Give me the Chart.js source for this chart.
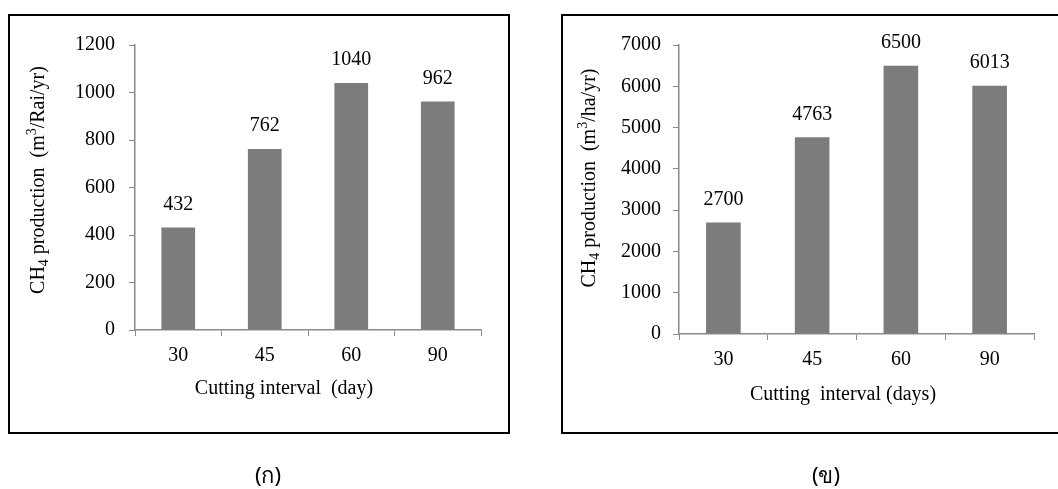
<!DOCTYPE html>
<html>
<head>
<meta charset="utf-8">
<script src="https://cdn.jsdelivr.net/npm/chart.js@4.4.1/dist/chart.umd.min.js"></script>
<style>
  html, body { margin: 0; padding: 0; background: #ffffff; }
  body { width: 1058px; height: 489px; position: relative; overflow: hidden; }
  .frame { position: absolute; border: 2px solid #000; box-sizing: border-box; }
  canvas { position: absolute; top: 0; }
  .cap { position: absolute; font-family: "Noto Sans", "DejaVu Sans", sans-serif; font-size: 22px; color: #000; transform: translateX(-50%); white-space: nowrap; }
</style>
</head>
<body>
<div class="frame" style="left:8px;top:14px;width:502px;height:420px;"></div>
<div class="frame" style="left:561px;top:14px;width:600px;height:420px;"></div>
<canvas id="c1" width="530" height="489" style="left:0px;width:530px;height:489px;"></canvas>
<canvas id="c2" width="528" height="489" style="left:530px;width:528px;height:489px;"></canvas>
<div class="cap" style="left:268px;top:458px;">(ก)</div>
<div class="cap" style="left:826px;top:458px;">(ข)</div>
<script>
// ---- data ----
const categories = ['30', '45', '60', '90'];
const valuesRai = [432, 762, 1040, 962];
const valuesHa = [2700, 4763, 6500, 6013];
const yTicksRai = [0, 200, 400, 600, 800, 1000, 1200];
const yTicksHa = [0, 1000, 2000, 3000, 4000, 5000, 6000, 7000];
const xTitleRai = 'Cutting interval  (day)';
const xTitleHa = 'Cutting  interval (days)';
const yTitleRai = [['CH', 0], ['4', 1], [' production  (m', 0], ['3', -1], ['/Rai/yr)', 0]];
const yTitleHa = [['CH', 0], ['4', 1], [' production  (m', 0], ['3', -1], ['/ha/yr)', 0]];

const SERIF = '"Liberation Serif", "Times New Roman", serif';
const BAR = '#7b7c7b';
const AXIS = '#8a8a8a';

function drawRich(ctx, segs, cx, cy, size) {
  const small = Math.round(size * 0.68);
  let total = 0;
  const parts = segs.map(([t, mode]) => {
    const fs = mode === 0 ? size : small;
    ctx.font = fs + 'px ' + SERIF;
    const w = ctx.measureText(t).width;
    total += w;
    return {t, mode, fs, w};
  });
  ctx.save();
  ctx.translate(cx, cy);
  ctx.rotate(-Math.PI / 2);
  ctx.fillStyle = '#000';
  ctx.textBaseline = 'alphabetic';
  ctx.textAlign = 'left';
  let x = -total / 2;
  const base = size * 0.33;
  parts.forEach(p => {
    ctx.font = p.fs + 'px ' + SERIF;
    const dy = p.mode === 1 ? size * 0.22 : (p.mode === -1 ? -size * 0.38 : 0);
    ctx.fillText(p.t, x, base + dy);
    x += p.w;
  });
  ctx.restore();
}

function makeChart(id, values, yTicks, cfg) {
  const labelPlugin = {
    id: 'labels_' + id,
    afterDatasetsDraw(chart) {
      const ctx = chart.ctx;
      const meta = chart.getDatasetMeta(0);
      ctx.save();
      ctx.fillStyle = '#000';
      ctx.font = cfg.labelSize + 'px ' + SERIF;
      ctx.textAlign = 'center';
      ctx.textBaseline = 'middle';
      meta.data.forEach((bar, i) => {
        ctx.fillText(String(values[i]), bar.x, bar.y - 23);
      });
      ctx.font = cfg.titleSize + 'px ' + SERIF;
      ctx.textBaseline = 'middle';
      ctx.fillText(cfg.xTitle, cfg.xTitleX, cfg.xTitleY);
      ctx.restore();
      drawRich(ctx, cfg.yTitle, cfg.yTitleX, cfg.yTitleY, cfg.titleSize);
    }
  };
  return new Chart(document.getElementById(id), {
    type: 'bar',
    data: {
      labels: categories,
      datasets: [{
        data: values,
        backgroundColor: BAR,
        borderWidth: 0,
        categoryPercentage: 1.0,
        barPercentage: 0.39
      }]
    },
    options: {
      responsive: false,
      animation: false,
      devicePixelRatio: 1,
      layout: { padding: { top: cfg.top, right: cfg.padRight, left: 0, bottom: 0 } },
      plugins: { legend: { display: false }, tooltip: { enabled: false }, title: { display: false } },
      scales: {
        x: {
          grid: { display: true, drawOnChartArea: false, drawTicks: true, tickLength: 6, color: AXIS, lineWidth: 1, offset: true },
          border: { display: true, color: AXIS, width: 1.5 },
          ticks: { color: '#000', font: { family: SERIF, size: 20 }, padding: 8, maxRotation: 0 },
          afterFit(s) { s.height = 489 - cfg.bottom; }
        },
        y: {
          min: yTicks[0],
          max: yTicks[yTicks.length - 1],
          afterBuildTicks(s) { s.ticks = yTicks.map(v => ({ value: v })); },
          grid: { display: true, drawOnChartArea: false, drawTicks: true, tickLength: 6, color: AXIS, lineWidth: 1 },
          border: { display: true, color: AXIS, width: 1.5 },
          ticks: { color: '#000', font: { family: SERIF, size: 20 }, padding: cfg.yPad, callback: v => String(v) },
          afterFit(s) { s.width = cfg.left; }
        }
      }
    },
    plugins: [labelPlugin]
  });
}

makeChart('c1', valuesRai, yTicksRai, {
  top: 45, bottom: 330, left: 135, padRight: 530 - 481, yPad: 14,
  labelSize: 20, titleSize: 20,
  xTitle: xTitleRai, xTitleX: 284, xTitleY: 389,
  yTitle: yTitleRai, yTitleX: 37, yTitleY: 180
});
makeChart('c2', valuesHa, yTicksHa, {
  top: 45, bottom: 334, left: 149, padRight: 528 - 504, yPad: 12,
  labelSize: 20, titleSize: 20,
  xTitle: xTitleHa, xTitleX: 843 - 530, xTitleY: 395,
  yTitle: yTitleHa, yTitleX: 588 - 530, yTitleY: 178
});
</script>
</body>
</html>
